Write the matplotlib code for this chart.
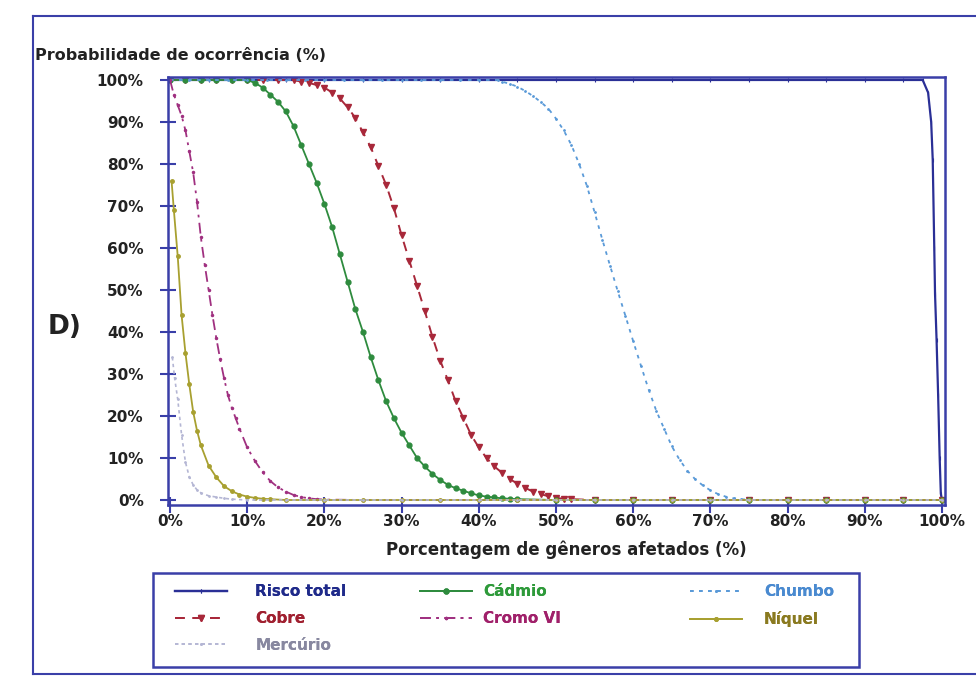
import numpy as np
import matplotlib
matplotlib.use('Agg')
import matplotlib.pyplot as plt
from matplotlib.patches import Rectangle
from matplotlib.lines import Line2D

plt.rcParams['font.family'] = ['Liberation Sans Narrow', 'DejaVu Sans']
plt.rcParams['font.weight'] = 'bold'

# curvas de probabilidade (% de gêneros afetados x probabilidade %)
risco_x = [0, 5, 10, 15, 20, 25, 30, 35, 40, 45, 50, 55, 60, 65, 70, 75, 80, 85, 90, 95,
           97.5, 98.2, 98.6, 98.8, 99.0, 99.1, 99.3, 99.5, 99.7, 99.85, 100]
risco_y = [100, 100, 100, 100, 100, 100, 100, 100, 100, 100, 100, 100, 100, 100, 100, 100,
           100, 100, 100, 100, 100, 97, 90, 81, 60, 49, 38, 25, 10, 1.5, 0]

cadmio_x = [0, 2, 4, 6, 8,
            10, 11, 12, 13, 14, 15, 16, 17, 18, 19, 20, 21, 22, 23, 24, 25, 26, 27,
            28, 29, 30, 31, 32, 33, 34, 35, 36, 37, 38, 39, 40, 41, 42, 43, 44, 45,
            50, 55, 60, 65, 70, 75, 80, 85, 90, 95, 100]
cadmio_y = [100, 100, 100, 100, 100,
            100, 99.3, 98.2, 96.5, 94.8, 92.5, 89, 84.5, 80, 75.5, 70.5, 65, 58.5, 52,
            45.5, 40, 34, 28.5, 23.5, 19.5, 16, 13, 10, 8, 6.2, 4.8, 3.6, 2.8, 2.2, 1.6,
            1.1, 0.8, 0.6, 0.4, 0.3, 0.2,
            0, 0, 0, 0, 0, 0, 0, 0, 0, 0, 0]

cobre_x = [0, 2, 4, 6, 8, 10, 12, 14, 16,
           17, 18, 19, 20, 21, 22, 23, 24, 25, 26, 27, 28, 29, 30, 31, 32, 33, 34,
           35, 36, 37, 38, 39, 40, 41, 42, 43, 44, 45, 46, 47, 48, 49, 50, 51, 52,
           55, 60, 65, 70, 75, 80, 85, 90, 95, 100]
cobre_y = [100, 100, 100, 100, 100, 100, 100, 100, 100,
           99.6, 99.3, 98.8, 98.2, 97, 95.6, 93.5, 91, 87.5, 84, 79.5, 75, 69.5, 63,
           57, 51, 45, 38.8, 33.2, 28.5, 23.5, 19.5, 15.5, 12.5, 10, 8, 6.5, 5, 3.9,
           2.9, 2, 1.4, 0.9, 0.5, 0.3, 0.2,
           0, 0, 0, 0, 0, 0, 0, 0, 0, 0]

chumbo_x = [0, 2.5, 5, 7.5, 10, 12.5, 15, 17.5, 20, 22.5, 25, 27.5, 30, 32.5, 35, 37.5,
            40, 42.5,
            43, 44, 45, 46, 47, 48, 49, 50, 51, 52, 53, 54, 55, 56, 57, 58, 59, 60, 61,
            62, 63, 64, 65, 66, 67, 68, 69, 70, 71, 72, 73, 74, 75,
            80, 85, 90, 95, 100]
chumbo_y = [100, 100, 100, 100, 100, 100, 100, 100, 100, 100, 100, 100, 100, 100, 100,
            100, 100, 100,
            99.6, 99.1, 98.4, 97.4, 96.2, 94.8, 93.2, 90.8, 88, 84.5, 80, 74.8, 68.5, 62,
            55.8, 49.7, 43.8, 37.8, 32, 26.3, 21.2, 17, 12.8, 9.6, 7, 5, 3.5, 2.3, 1.4,
            0.8, 0.4, 0.2, 0,
            0, 0, 0, 0, 0]

cromo_x = [0, 0.5, 1, 1.5, 2, 2.5, 3, 3.5, 4, 4.5, 5, 5.5, 6, 6.5, 7, 7.5, 8, 8.5, 9,
           10, 11, 12, 13, 14, 15, 16, 17, 18, 19, 20,
           25, 30, 35, 40, 45, 50, 55, 60, 65, 70, 75, 80, 85, 90, 95, 100]
cromo_y = [100, 96.5, 94, 91.5, 88, 83, 78, 71, 62.5, 56, 50, 44, 38.5, 33.5, 29, 25, 22,
           19.5, 17,
           12.5, 9.3, 6.6, 4.5, 3, 2, 1.2, 0.7, 0.4, 0.2, 0.1,
           0, 0, 0, 0, 0, 0, 0, 0, 0, 0, 0, 0, 0, 0, 0, 0]

niquel_x = [0.2, 0.5, 1, 1.5, 2, 2.5, 3, 3.5, 4,
            5, 6, 7, 8, 9, 10, 11, 12, 13, 15,
            20, 25, 30, 35, 40, 45, 50, 55, 60, 65, 70, 75, 80, 85, 90, 95, 100]
niquel_y = [76, 69, 58, 44, 35, 27.5, 21, 16.5, 13,
            8.2, 5.4, 3.3, 2.1, 1.3, 0.8, 0.5, 0.3, 0.2, 0,
            0, 0, 0, 0, 0, 0, 0, 0, 0, 0, 0, 0, 0, 0, 0, 0, 0]

mercurio_x = [0.3, 0.6, 1, 1.5, 2, 2.5, 3, 3.5, 4,
              5, 6, 7, 8, 10,
              15, 20, 25, 30, 35, 40, 45, 50, 55, 60, 65, 70, 75, 80, 85, 90, 95, 100]
mercurio_y = [34, 29, 24, 15.5, 9, 5.5, 3.6, 2.4, 1.7,
              1, 0.7, 0.4, 0.2, 0,
              0, 0, 0, 0, 0, 0, 0, 0, 0, 0, 0, 0, 0, 0, 0, 0, 0, 0]

ticks = [0, 10, 20, 30, 40, 50, 60, 70, 80, 90, 100]
tick_labels = ['0%', '10%', '20%', '30%', '40%', '50%', '60%', '70%', '80%', '90%', '100%']

azul = '#3a3fa8'
W, H = 976, 676

fig = plt.figure(figsize=(9.76, 6.76), dpi=100)
ax = fig.add_axes([168 / W, 1 - 505 / H, 777 / W, 428 / H])

l_risco, = ax.plot(risco_x, risco_y, color='#2a2f96', lw=1.6, marker='|', ms=3, mew=0.8)
l_cobre, = ax.plot(cobre_x, cobre_y, color='#a8283a', lw=1.4, ls=(0, (5, 4)),
                   marker='v', ms=4.5)
l_cadmio, = ax.plot(cadmio_x, cadmio_y, color='#2e8b3e', lw=1.3, marker='o', ms=3.5)
l_chumbo, = ax.plot(chumbo_x, chumbo_y, color='#5a9ad8', lw=1.3, ls=(0, (2, 3)),
                    marker='.', ms=2)
l_cromo, = ax.plot(cromo_x, cromo_y, color='#a03080', lw=1.3, ls=(0, (6, 3, 1.5, 3)),
                   marker='.', ms=3)
l_niquel, = ax.plot(niquel_x, niquel_y, color='#a8a030', lw=1.3, marker='o', ms=2.5)
l_mercurio, = ax.plot(mercurio_x, mercurio_y, color='#b4b6d4', lw=1.2, ls=(0, (2, 2)),
                      marker='.', ms=2)

ax.set_xlim(-0.26, 100.39)
ax.set_ylim(-1.19, 100.71)
ax.set_xticks(ticks)
ax.set_xticklabels(tick_labels)
ax.set_yticks(ticks)
ax.set_yticklabels(tick_labels)
for s in ax.spines.values():
    s.set_color(azul)
    s.set_linewidth(1.8)
ax.tick_params(direction='inout', length=11, width=1.5, color=azul,
               labelsize=11, labelcolor='#222222')
ax.tick_params(axis='y', pad=12)
ax.tick_params(axis='x', pad=1)
for lab in ax.get_xticklabels() + ax.get_yticklabels():
    lab.set_fontweight('bold')

fig.text(35 / W, 1 - 55 / H, 'Probabilidade de ocorrência (%)', ha='left', va='center',
         fontsize=11.5, fontweight='bold', color='#222222')
fig.text(566 / W, 1 - 550 / H, 'Porcentagem de gêneros afetados (%)', ha='center',
         va='center', fontsize=12, fontweight='bold', color='#222222')
fig.text(65 / W, 1 - 327 / H, 'D)', ha='center', va='center', fontsize=19,
         fontweight='bold', family='DejaVu Sans', color='#222222')

# moldura externa e caixa da legenda
fig.add_artist(Line2D([33 / W, 33 / W], [1 - 16 / H, 1 - 674 / H], color=azul, lw=1.5))
fig.add_artist(Line2D([33 / W, 1], [1 - 16 / H, 1 - 16 / H], color=azul, lw=1.5))
fig.add_artist(Line2D([33 / W, 1], [1 - 674 / H, 1 - 674 / H], color=azul, lw=1.5))
fig.add_artist(Rectangle((153 / W, 1 - 667 / H), 706 / W, 94 / H, transform=fig.transFigure,
                         fill=False, edgecolor=azul, lw=1.8))

colunas = [
    (175, 1.85, [l_risco, l_cobre, l_mercurio], ['Risco total', 'Cobre', 'Mercúrio'],
     ['#1f2a8a', '#a02030', '#8888a0']),
    (420, 0.75, [l_cadmio, l_cromo], ['Cádmio', 'Cromo VI'], ['#2e9a3a', '#a0206a']),
    (690, 1.45, [l_chumbo, l_niquel], ['Chumbo', 'Níquel'], ['#4a8ad0', '#8a7a20']),
]
for x0, pad, hs, labs, cores in colunas:
    leg = fig.legend(hs, labs, loc='upper left', bbox_to_anchor=(x0 / W, 1 - 584 / H),
                     frameon=False, borderpad=0, borderaxespad=0, handlelength=3.4,
                     handletextpad=pad, labelspacing=0.78, labelcolor=cores,
                     prop={'weight': 'bold', 'size': 11})
    fig.add_artist(leg)

fig.savefig('out.png', dpi=100)
